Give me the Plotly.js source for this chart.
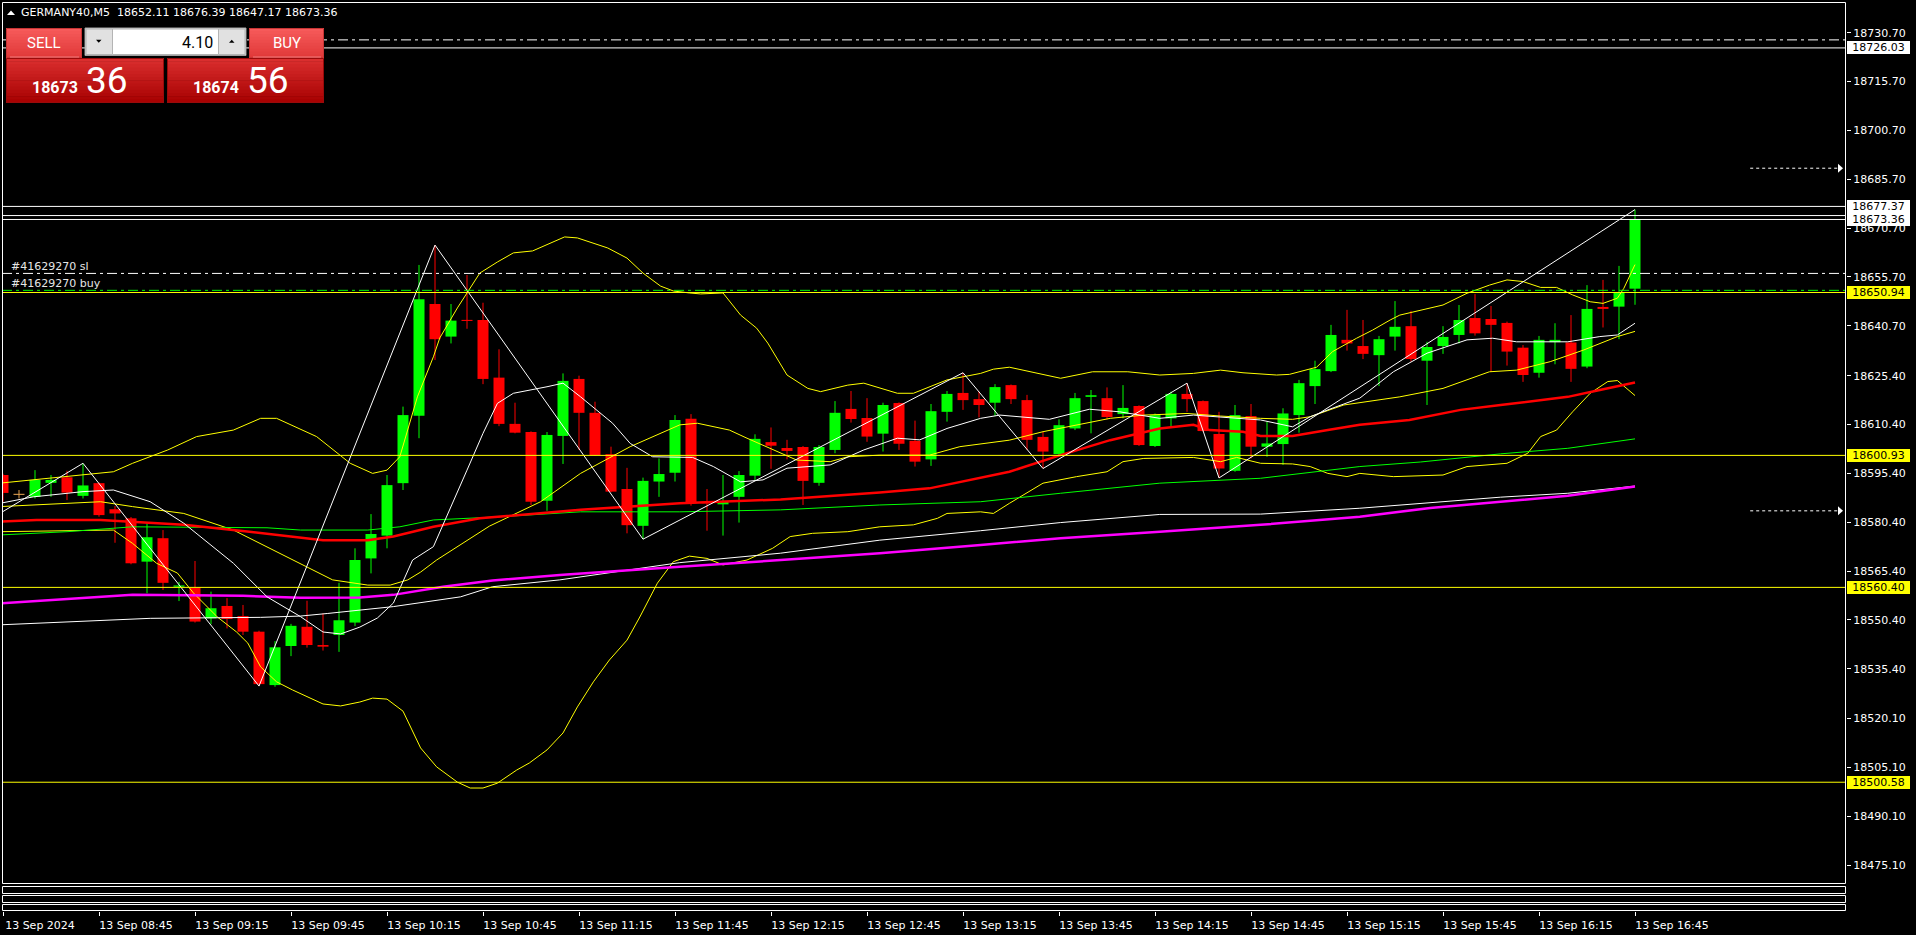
<!DOCTYPE html>
<html><head><meta charset="utf-8">
<script src="https://cdn.plot.ly/plotly-3.0.1.min.js"></script>
<style>html,body{margin:0;padding:0;background:#000;overflow:hidden}#chart{width:1916px;height:935px}</style>
</head><body><div id="chart"></div>
<script>
// ---------------- DATA ----------------
const symbol = "GERMANY40";
const period = "M5";
const bid = 18673.36;
const ask = 18674.56;
const lotSize = "4.10";

// bar index 0 = 13 Sep 08:15, one bar every 5 minutes
const opens = [18594.9,18588.8,18588.2,18592.5,18594.2,18588.5,18592.4,18584.4,18581.6,18568.3,
18575.5,18560.6,18560.3,18550.9,18554.7,18551.6,18546.8,18530.4,18542.4,18548.3,
18542.7,18545.8,18549.6,18569.3,18576.3,18592.4,18613.1,18647.4,18637.4,18642.5,
18642.5,18624.8,18610.6,18608.1,18587.0,18606.9,18624.4,18614.0,18601.3,18590.6,
18579.3,18592.9,18595.6,18612.2,18586.7,18585.9,18588.2,18594.7,18605.0,18603.2,
18603.5,18592.5,18602.6,18615.2,18612.4,18607.6,18617.0,18605.4,18599.7,18614.3,
18620.1,18618.2,18617.1,18622.5,18617.9,18606.6,18601.3,18609.2,18618.9,18618.5,
18613.6,18616.1,18603.8,18612.3,18619.8,18617.6,18607.5,18596.2,18613.0,18603.6,
18604.4,18613.3,18622.2,18626.8,18636.4,18634.5,18631.7,18637.4,18640.6,18630.0,
18634.5,18637.9,18643.1,18642.8,18641.6,18634.0,18626.3,18635.7,18635.6,18628.2,
18646.5,18646.6,18652.11];
const highs = [18595.3,18590.3,18596.4,18594.9,18596.2,18598.5,18592.6,18585.4,18582.0,18580.1,
18578.0,18562.1,18568.5,18559.1,18557.1,18555.0,18547.1,18543.9,18549.2,18556.3,
18552.4,18561.8,18572.4,18582.9,18594.9,18615.9,18659.4,18665.5,18647.4,18656.3,
18647.8,18633.5,18617.1,18608.3,18608.1,18626.1,18625.4,18617.4,18603.6,18597.1,
18594.1,18600.0,18613.3,18613.6,18590.6,18594.9,18596.1,18607.4,18609.5,18605.7,
18603.8,18604.1,18617.6,18620.7,18618.5,18617.1,18617.2,18611.6,18616.7,18620.7,
18626.3,18620.5,18622.8,18622.7,18619.5,18608.2,18612.0,18620.1,18621.0,18621.8,
18622.5,18616.3,18613.8,18620.5,18623.1,18617.8,18614.3,18616.4,18616.7,18611.3,
18615.4,18624.1,18630.0,18641.0,18645.6,18642.5,18637.6,18648.3,18645.3,18635.8,
18640.6,18647.1,18650.5,18646.8,18642.0,18634.8,18637.6,18641.5,18644.0,18653.2,
18654.8,18659.1,18676.39];
const lows = [18586.7,18587.7,18587.7,18588.2,18587.2,18587.7,18582.1,18574.1,18567.5,18558.6,
18559.6,18556.2,18549.6,18549.1,18547.8,18545.8,18530.1,18529.9,18539.3,18541.9,
18541.0,18540.6,18548.5,18564.7,18572.4,18590.3,18606.2,18630.2,18635.3,18639.8,
18622.8,18609.9,18607.7,18585.7,18583.9,18598.3,18602.6,18600.8,18589.6,18577.0,
18575.2,18588.2,18592.9,18585.5,18577.8,18576.3,18580.3,18593.2,18596.8,18599.7,
18585.7,18591.6,18601.6,18611.0,18605.1,18602.1,18602.6,18597.5,18597.7,18611.3,
18614.9,18612.6,18613.0,18616.7,18602.6,18596.9,18601.0,18608.7,18607.7,18612.0,
18612.3,18603.8,18603.5,18609.7,18614.3,18608.2,18594.0,18595.9,18600.0,18600.5,
18598.0,18607.9,18616.7,18626.5,18633.1,18630.5,18622.2,18633.1,18629.7,18616.4,
18632.1,18635.3,18637.7,18626.6,18628.5,18623.5,18624.8,18628.9,18623.5,18627.7,
18640.2,18636.6,18647.17];
const closes = [18589.4,18588.8,18593.4,18593.4,18589.5,18591.7,18582.6,18583.1,18567.8,18575.8,
18561.8,18561.0,18549.9,18554.0,18550.7,18546.8,18530.7,18542.0,18548.6,18542.7,
18542.2,18550.3,18568.8,18576.8,18591.8,18613.3,18648.9,18636.6,18642.3,18642.2,
18624.4,18610.6,18607.9,18586.7,18607.2,18623.8,18614.0,18601.0,18589.8,18579.5,
18593.1,18595.2,18611.8,18586.2,18586.2,18586.7,18594.9,18606.0,18603.9,18602.3,
18593.1,18603.5,18614.0,18612.1,18606.7,18616.4,18604.5,18599.0,18614.5,18619.8,
18617.9,18616.4,18621.9,18618.2,18605.7,18602.1,18610.2,18618.5,18619.4,18612.7,
18615.5,18604.1,18613.3,18619.8,18618.2,18608.4,18596.9,18613.3,18603.6,18604.6,
18613.8,18623.1,18627.4,18637.9,18635.3,18632.1,18636.6,18640.4,18630.5,18634.2,
18637.3,18642.5,18638.4,18641.0,18632.8,18625.6,18636.4,18636.4,18627.5,18645.9,
18645.9,18651.0,18673.36];

const timeTickBars = [0,6,12,18,24,30,36,42,48,54,60,66,72,78,84,90,96,102];
const timeTickLabels = ["13 Sep 2024","13 Sep 08:45","13 Sep 09:15","13 Sep 09:45","13 Sep 10:15",
"13 Sep 10:45","13 Sep 11:15","13 Sep 11:45","13 Sep 12:15","13 Sep 12:45","13 Sep 13:15",
"13 Sep 13:45","13 Sep 14:15","13 Sep 14:45","13 Sep 15:15","13 Sep 15:45","13 Sep 16:15","13 Sep 16:45"];
const priceTicks = [18730.70,18715.70,18700.70,18685.70,18670.70,18655.70,18640.70,18625.40,18610.40,
18595.40,18580.40,18565.40,18550.40,18535.40,18520.10,18505.10,18490.10,18475.10];

// indicator readings: [bar, price]
const bbUpper = [[-0.2,18592.4],[6.9,18595.9],[8.1,18598.5],[10.3,18602.6],[12.1,18606.7],[14.4,18608.7],[16.1,18612.3],[17.1,18612.3],[19.6,18606.7],[21.7,18598.5],[23.1,18595.4],[24.0,18596.4],[24.8,18600.5],[25.9,18618.9],[26.9,18631.2],[27.3,18637.0],[28.4,18646.2],[29.8,18656.9],[30.9,18660.3],[31.9,18663.1],[33.1,18663.7],[34.4,18666.4],[35.1,18668.0],[35.9,18667.7],[37.8,18664.6],[39.0,18661.5],[40.0,18656.9],[41.1,18652.9],[41.9,18651.4],[42.9,18650.8],[43.6,18650.5],[45.0,18650.8],[46.1,18644.0],[47.1,18640.0],[47.8,18635.4],[49.0,18625.6],[50.3,18621.5],[51.1,18620.5],[52.8,18622.5],[53.8,18623.1],[55.9,18620.0],[56.9,18620.0],[59.0,18624.1],[61.1,18626.1],[61.9,18627.4],[62.9,18628.0],[66.1,18624.6],[68.1,18626.6],[70.3,18626.6],[72.3,18625.6],[74.4,18626.1],[76.1,18627.1],[77.5,18626.3],[79.6,18625.6],[80.4,18625.8],[82.1,18628.0],[83.1,18632.8],[84.6,18636.9],[85.6,18639.4],[86.7,18642.5],[87.3,18644.0],[90.0,18647.1],[91.5,18650.7],[92.9,18653.2],[94.0,18654.8],[95.0,18654.3],[96.1,18652.5],[97.1,18652.5],[98.1,18650.2],[99.2,18648.1],[100.0,18647.6],[100.9,18649.2],[101.3,18652.2],[102,18659.5]];
const bbMiddle = [[-0.2,18585.2],[6.1,18586.7],[8.1,18585.2],[11.3,18583.1],[14.4,18578.0],[16.5,18572.9],[18.6,18567.8],[20.6,18562.7],[22.8,18561.1],[24.2,18561.1],[25.3,18562.7],[26.1,18565.1],[27.1,18568.8],[29.0,18574.9],[30.4,18579.2],[33.6,18586.7],[36.1,18595.4],[39.2,18603.6],[42.3,18610.3],[43.4,18610.8],[45.4,18608.7],[46.5,18606.2],[48.6,18601.6],[49.6,18599.5],[51.7,18599.0],[52.8,18600.5],[54.8,18601.0],[57.9,18601.0],[59.8,18603.6],[62.9,18605.6],[65.0,18608.2],[67.1,18610.3],[69.2,18612.3],[71.3,18613.3],[74.0,18613.8],[76.1,18613.0],[78.6,18612.3],[80.6,18612.0],[81.7,18612.8],[83.8,18616.4],[86.3,18618.1],[87.3,18618.9],[90.0,18621.5],[91.5,18624.1],[92.9,18626.6],[94.6,18627.1],[96.7,18629.7],[98.8,18633.3],[100.9,18637.4],[102,18639.0]];
const bbLower = [[-0.2,18577.5],[6.9,18578.0],[8.1,18573.9],[9.6,18567.8],[10.9,18564.8],[11.9,18558.7],[13.4,18551.3],[14.6,18546.7],[15.3,18543.3],[16.1,18536.0],[17.1,18531.4],[18.1,18528.9],[20.0,18524.6],[21.1,18524.0],[22.3,18525.2],[23.1,18526.4],[24.0,18526.1],[25.0,18522.4],[26.1,18511.1],[27.1,18505.3],[28.4,18500.6],[29.2,18498.8],[30.0,18498.8],[30.9,18500.3],[32.1,18504.3],[32.9,18506.5],[34.0,18510.5],[35.0,18515.7],[35.9,18523.7],[36.9,18531.4],[37.9,18538.1],[39.0,18544.2],[39.8,18551.3],[40.9,18561.7],[41.9,18568.3],[42.9,18570.0],[44.0,18569.3],[45.0,18567.3],[46.5,18568.8],[48.1,18572.4],[49.2,18576.0],[50.6,18577.0],[52.8,18577.5],[54.8,18579.0],[56.9,18579.6],[58.4,18581.6],[59.0,18583.1],[61.1,18583.6],[61.9,18583.1],[62.9,18586.2],[65.0,18592.4],[67.1,18594.4],[69.0,18595.9],[70.0,18599.0],[71.3,18600.0],[74.4,18600.3],[76.1,18599.0],[77.1,18600.3],[78.6,18598.5],[80.6,18598.3],[81.7,18597.5],[82.8,18595.4],[84.0,18594.4],[84.8,18595.4],[86.9,18594.4],[90.0,18594.9],[91.5,18597.5],[94.0,18598.5],[95.3,18601.6],[96.1,18606.7],[97.1,18608.7],[98.1,18614.3],[99.2,18620.0],[100.3,18623.6],[100.9,18623.9],[102,18619.3]];
const redMA = [[-0.2,18580.6],[2.1,18581.1],[6.1,18581.1],[9.2,18580.1],[11.3,18579.6],[15.4,18577.5],[20.0,18574.9],[22.8,18574.9],[24.4,18576.0],[26.9,18579.0],[29.8,18581.6],[36.1,18584.2],[42.3,18586.2],[48.6,18587.4],[54.8,18589.5],[57.9,18590.8],[59.8,18592.8],[62.9,18595.9],[66.1,18601.0],[69.2,18605.6],[72.3,18609.2],[74.4,18610.3],[75.4,18608.7],[77.5,18608.2],[78.6,18606.9],[80.6,18606.9],[82.8,18608.7],[84.8,18610.3],[87.9,18611.8],[91.1,18614.9],[93.6,18616.4],[97.8,18618.9],[99.8,18621.0],[102,18623.3]];
const greenMA = [[-0.2,18576.5],[4.0,18577.5],[8.1,18579.0],[16.5,18578.7],[18.6,18578.0],[22.8,18578.0],[24.8,18579.0],[26.9,18581.1],[31.1,18582.1],[36.1,18583.6],[42.3,18583.6],[48.6,18584.2],[54.8,18585.7],[61.1,18586.7],[66.1,18589.3],[72.3,18592.4],[78.6,18593.9],[84.8,18597.5],[88.6,18598.9],[93.6,18601.4],[97.8,18603.1],[102,18606.0]];
const magentaMA = [[-0.2,18555.5],[8.1,18558.1],[15.0,18557.8],[18.6,18557.2],[22.3,18557.3],[24.4,18558.1],[27.5,18560.6],[30.6,18562.5],[34.8,18564.2],[39.0,18565.7],[42.3,18566.7],[48.6,18568.8],[54.8,18570.9],[61.1,18573.4],[66.1,18575.5],[72.3,18577.5],[78.6,18579.6],[84.8,18582.1],[89.2,18584.8],[93.6,18586.7],[97.8,18588.5],[102,18591.4]];
const whiteSlowMA = [[-0.2,18548.9],[9.2,18550.9],[16.1,18551.2],[18.6,18551.6],[20.3,18552.4],[24.4,18554.5],[28.6,18557.5],[30.6,18560.6],[34.8,18562.7],[39.0,18565.7],[42.3,18568.0],[48.6,18570.9],[54.8,18574.9],[61.1,18577.8],[66.1,18580.3],[72.3,18582.8],[78.6,18582.9],[84.8,18584.7],[89.2,18586.3],[93.6,18588.1],[97.8,18589.3],[102,18591.5]];
const whiteFastMA = [[-0.2,18586.2],[1.9,18588.2],[5.0,18589.8],[6.9,18590.3],[9.2,18586.7],[11.3,18580.1],[14.4,18567.8],[16.5,18557.5],[18.6,18551.4],[20.0,18546.7],[21.1,18546.1],[22.3,18548.2],[23.4,18551.0],[24.4,18555.6],[25.6,18568.8],[26.9,18572.9],[29.0,18596.4],[30.0,18607.7],[30.9,18616.9],[31.9,18620.0],[34.0,18622.0],[35.0,18623.1],[36.1,18618.9],[38.1,18610.8],[39.2,18604.6],[40.6,18600.5],[43.1,18600.3],[44.4,18597.5],[46.1,18592.8],[47.5,18593.4],[49.0,18597.0],[51.7,18598.0],[53.8,18602.6],[55.9,18606.2],[57.3,18605.7],[59.0,18609.2],[61.1,18612.3],[62.3,18613.3],[65.4,18612.0],[67.9,18615.1],[69.8,18614.3],[72.3,18612.3],[74.4,18613.3],[76.5,18612.6],[78.6,18611.8],[80.6,18609.7],[81.7,18612.8],[82.8,18614.9],[84.8,18618.5],[86.9,18626.6],[89.0,18632.3],[91.5,18636.4],[93.1,18636.9],[94.6,18635.8],[97.8,18635.8],[99.8,18637.4],[100.9,18637.9],[102,18641.5]];
const zigzagBars = [0,5,16,27,40,60,65,74,76,102];
const zigzagPrices = [18583.7,18598.5,18530.1,18665.5,18575.2,18626.3,18596.9,18623.1,18594.0,18676.39];

const yellowLevels = [18650.94,18600.93,18560.40,18500.58];
const whiteLevels = [18726.03,18677.37,18674.56,18673.36];
const whiteLabelLevels = [18726.03,18677.37,18673.36];
const whiteDashDotLevels = [18728.5,18656.8];
const orderLevels = [18651.6];
const orderLabels = [["#41629270 sl",18656.8],["#41629270 buy",18651.6]];
const arrowLevels = [18689.1,18583.9];
const arrowSpan = [109.2,114.75];

// ---------------- DRAWING ----------------
const UP='#00FF00', DOWN='#FF0000', DOJI='#E0A050';
const FONT='DejaVu Sans';
const P = { x: px => (px-2)/1844, y: py => (911-py)/909 };
const idx = opens.map((_,i)=>i);
const colorOf = i => closes[i]>opens[i]?UP:(closes[i]<opens[i]?DOWN:DOJI);
const colors = idx.map(colorOf);

const traces = [];
traces.push({type:'bar', x:idx, base:idx.map(i=>Math.min(opens[i],closes[i])),
  y:idx.map(i=>Math.max(Math.abs(closes[i]-opens[i]),0.33)), width:0.6875,
  marker:{color:colors,line:{width:0}}, hoverinfo:'skip'});
[UP,DOWN,DOJI].forEach(c=>{
  const xs=[],ys=[];
  idx.forEach(i=>{ if(colors[i]===c){ xs.push(i,i,null); ys.push(lows[i],highs[i],null);} });
  traces.push({type:'scatter',mode:'lines',x:xs,y:ys,line:{color:c,width:1},hoverinfo:'skip',connectgaps:false});
});
function lineTrace(pts,color,width){
  return {type:'scatter',mode:'lines',x:pts.map(p=>p[0]),y:pts.map(p=>p[1]),line:{color,width},hoverinfo:'skip'};
}
traces.push(lineTrace(bbUpper,'#FFFF00',1));
traces.push(lineTrace(bbMiddle,'#FFFF00',1));
traces.push(lineTrace(bbLower,'#FFFF00',1));
traces.push(lineTrace(greenMA,'#00FF00',1));
traces.push(lineTrace(whiteSlowMA,'#FFFFFF',1));
traces.push(lineTrace(magentaMA,'#FF00FF',2.5));
traces.push(lineTrace(redMA,'#FF0000',2.5));
traces.push(lineTrace(whiteFastMA,'#FFFFFF',1));
traces.push({type:'scatter',mode:'lines',x:zigzagBars,y:zigzagPrices,line:{color:'#FFFFFF',width:1},hoverinfo:'skip'});

const shapes=[];
const hline=(v,color,dash)=>shapes.push({type:'line',xref:'paper',x0:0,x1:1,yref:'y',y0:v,y1:v,line:{color,width:1,dash:dash||'solid'}});
yellowLevels.forEach(v=>hline(v,'#FFFF00'));
whiteLevels.forEach(v=>hline(v,'#FFFFFF'));
whiteDashDotLevels.forEach(v=>hline(v,'#FFFFFF','10px,4px,3px,4px'));
orderLevels.forEach(v=>hline(v,'#00FF00','10px,4px,3px,4px'));
arrowLevels.forEach(v=>{
  shapes.push({type:'line',xref:'x',yref:'y',x0:arrowSpan[0],x1:arrowSpan[1],y0:v,y1:v,line:{color:'#FFFFFF',width:1,dash:'3px,3px'}});
  shapes.push({type:'path',xref:'x',yref:'y',xsizemode:'pixel',ysizemode:'pixel',xanchor:arrowSpan[1],yanchor:v,
    path:'M -1 -4.5 L 4 0 L -1 4.5 Z',fillcolor:'#FFFFFF',line:{width:0}});
});
function rectPx(x0,y0,x1,y1,fill,lc,lw){
  shapes.push({type:'rect',xref:'paper',yref:'paper',x0:P.x(x0),x1:P.x(x1),y0:P.y(y1),y1:P.y(y0),
    fillcolor:fill||'rgba(0,0,0,0)',line:{color:lc||'rgba(0,0,0,0)',width:lw||0},layer:'above'});
}
// frames
rectPx(2.5,2.5,1845.5,883.5,null,'#FFFFFF',1);
rectPx(2.5,886.5,1845.5,893.5,null,'#FFFFFF',1);
rectPx(2.5,895.5,1845.5,902.5,null,'#FFFFFF',1);
rectPx(2.5,904.5,1845.5,910.5,null,'#FFFFFF',1);
// trade panel
function hex(c){return [1,3,5].map(k=>parseInt(c.substr(k,2),16));}
function grad(x0,y0,x1,y1,c0,c1,n){
  const a=hex(c0),b=hex(c1);
  for(let k=0;k<n;k++){
    const t=k/(n-1);
    const c='rgb('+a.map((v,j)=>Math.round(v+(b[j]-v)*t)).join(',')+')';
    rectPx(x0,y0+(y1-y0)*k/n,x1,y0+(y1-y0)*(k+1)/n+0.6,c);
  }
}
grad(6,28,82,57.5,'#F65A5A','#E13A3A',10);
rectPx(6.5,28.5,81.5,57.5,null,'#C93434',1);
grad(249,28,324,57.5,'#F65A5A','#E13A3A',10);
rectPx(249.5,28.5,323.5,57.5,null,'#C93434',1);
shapes.push({type:'line',xref:'paper',yref:'paper',x0:P.x(10),x1:P.x(79),y0:P.y(57),y1:P.y(57),line:{color:'#F07A7A',width:1}});
shapes.push({type:'line',xref:'paper',yref:'paper',x0:P.x(253),x1:P.x(321),y0:P.y(57),y1:P.y(57),line:{color:'#F07A7A',width:1}});
grad(6,58,164,102.5,'#DA2E2E','#A80202',14);
rectPx(6.5,58.5,163.5,102.5,null,'#9A0A0A',1);
grad(167,58,324,102.5,'#DA2E2E','#A80202',14);
rectPx(167.5,58.5,323.5,102.5,null,'#9A0A0A',1);
rectPx(85,28,246,55.5,'#F0F0F0','#A0A0A0',1);
rectPx(86,29,112.5,54.5,'#E1E1E1','#B4B4B4',1);
rectPx(112.5,29,218.5,54.5,'#FFFFFF','#B4B4B4',1);
rectPx(218.5,29,245,54.5,'#E1E1E1','#B4B4B4',1);
const tri=(pts,fill)=>shapes.push({type:'path',xref:'paper',yref:'paper',
  path:'M '+pts.map(p=>P.x(p[0])+' '+P.y(p[1])).join(' L ')+' Z',fillcolor:fill,line:{width:0}});
tri([[96,39.8],[101.5,39.8],[98.75,42.8]],'#000000');
tri([[229,42.8],[234.5,42.8],[231.75,39.8]],'#000000');
tri([[7,15],[15,15],[11,10.5]],'#FFFFFF');

const annotations=[];
const ann=(o)=>annotations.push(Object.assign({showarrow:false,xref:'paper',yref:'paper',borderpad:0},o));
ann({x:P.x(20),y:P.y(12.5),xanchor:'left',yanchor:'middle',
  text:symbol+','+period+'\u00a0\u00a0'+[opens,highs,lows,closes].map(a=>a[a.length-1].toFixed(2)).join(' '),
  font:{family:FONT,size:11,color:'#FFFFFF'}});
ann({x:P.x(44),y:P.y(43),xanchor:'center',yanchor:'middle',text:'SELL',font:{family:'Roboto',size:15,color:'#FFFFFF'}});
ann({x:P.x(286.5),y:P.y(43),xanchor:'center',yanchor:'middle',text:'BUY',font:{family:'Roboto',size:15,color:'#FFFFFF'}});
ann({x:P.x(214),y:P.y(42.5),xanchor:'right',yanchor:'middle',text:lotSize,font:{family:'Roboto',size:16,color:'#000000'}});
const split=v=>{const s=v.toFixed(2).split('.');return s;};
[[bid,31,85],[ask,192,246]].forEach(([v,xa,xb])=>{
  const s=split(v);
  ann({x:P.x(xa),y:P.y(87.5),xanchor:'left',yanchor:'middle',text:'<b>'+s[0]+'</b>',font:{family:'Roboto',size:16,color:'#FFFFFF'}});
  ann({x:P.x(xb),y:P.y(80.5),xanchor:'left',yanchor:'middle',text:s[1],font:{family:'Roboto',size:37,color:'#FFFFFF'}});
});
orderLabels.forEach(([t,v])=>ann({x:P.x(10),xanchor:'left',yref:'y',y:v,yanchor:'middle',yshift:7,text:t,font:{family:FONT,size:11,color:'#E6E6E6'}}));
const priceBox=(v,bg)=>ann({x:1,xshift:1,xanchor:'left',yref:'y',y:v,yanchor:'middle',width:63,height:13,align:'center',
  bgcolor:bg,borderwidth:0,text:v.toFixed(2),font:{family:FONT,size:11,color:'#000000'}});
whiteLabelLevels.forEach(v=>priceBox(v,'#FFFFFF'));
yellowLevels.forEach(v=>priceBox(v,'#FFFF00'));

const layout={width:1916,height:935,margin:{l:2,r:70,t:2,b:24,pad:0},
  paper_bgcolor:'#000000',plot_bgcolor:'#000000',barmode:'overlay',showlegend:false,hovermode:false,dragmode:false,
  font:{family:FONT,size:11,color:'#FFFFFF'},
  xaxis:{type:'linear',range:[-0.0625,115.1875],anchor:'free',position:0,showgrid:false,zeroline:false,showline:false,
    tickmode:'array',tickvals:timeTickBars,ticktext:timeTickLabels,ticks:'outside',ticklen:4,tickwidth:1,tickcolor:'#FFFFFF',
    ticklabelshift:37,tickfont:{family:FONT,size:11,color:'#FFFFFF'}},
  yaxis:{domain:[27/909,1],range:[18469.33,18740.13],side:'right',showgrid:false,zeroline:false,showline:false,
    tickmode:'array',tickvals:priceTicks,ticktext:priceTicks.map(v=>v.toFixed(2)),ticks:'outside',ticklen:4,tickwidth:1,
    tickcolor:'#FFFFFF',tickfont:{family:FONT,size:11,color:'#FFFFFF'}},
  shapes,annotations};
Plotly.newPlot('chart',traces,layout,{displayModeBar:false,staticPlot:true});
</script></body></html>
